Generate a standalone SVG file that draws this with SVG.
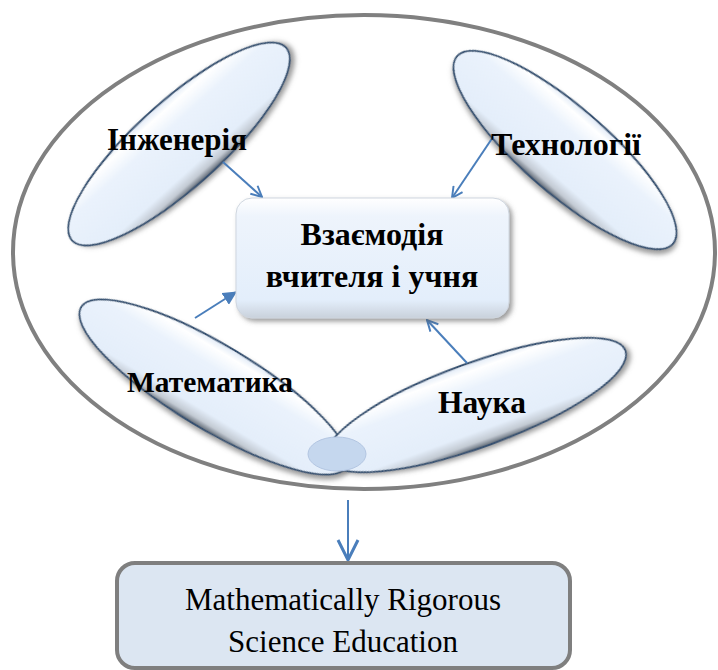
<svg xmlns="http://www.w3.org/2000/svg" width="718" height="670" viewBox="0 0 718 670">
  <defs>
    <linearGradient id="petalFill" x1="0" y1="0" x2="0" y2="1">
      <stop offset="0" stop-color="#dfe9f6"/>
      <stop offset="0.1" stop-color="#ffffff"/>
      <stop offset="0.3" stop-color="#eaf2fc"/>
      <stop offset="0.8" stop-color="#e4eefa"/>
      <stop offset="0.92" stop-color="#c3cad3"/>
      <stop offset="1" stop-color="#5f6873"/>
    </linearGradient>
    <linearGradient id="boxFill" x1="0" y1="0" x2="0" y2="1">
      <stop offset="0" stop-color="#ffffff"/>
      <stop offset="0.15" stop-color="#eef4fc"/>
      <stop offset="0.85" stop-color="#e3eefb"/>
      <stop offset="1" stop-color="#c9d1db"/>
    </linearGradient>
    <filter id="shadow" x="-10%" y="-10%" width="125%" height="130%">
      <feDropShadow dx="3" dy="3" stdDeviation="2.5" flood-color="#5a5a5a" flood-opacity="0.6"/>
    </filter>
    <marker id="openArrow" viewBox="0 0 12 12" markerWidth="13" markerHeight="13" refX="11" refY="6" orient="auto" markerUnits="userSpaceOnUse">
      <path d="M1,1 L11,6 L1,11" fill="none" stroke="#4a7ebb" stroke-width="1.8"/>
    </marker>
    <marker id="filledArrow" viewBox="0 0 12 12" markerWidth="14" markerHeight="14" refX="11" refY="6" orient="auto" markerUnits="userSpaceOnUse">
      <path d="M0,0 L12,6 L0,12 Z" fill="#4a7ebb"/>
    </marker>
    <marker id="bigArrow" viewBox="0 0 24 24" markerWidth="24" markerHeight="24" refX="22" refY="12" orient="auto" markerUnits="userSpaceOnUse">
      <path d="M2,2 L22,12 L2,22" fill="none" stroke="#4a7ebb" stroke-width="3"/>
    </marker>
    <style>
      .outer { fill: #ffffff; stroke: #808080; stroke-width: 4; }
      .petal { fill: url(#petalFill); stroke: #34506f; stroke-width: 1.8; }
      .lbl { font-family: "Liberation Serif", "Times New Roman", serif; font-weight: bold; fill: #000000; }
      .conn { stroke: #4a7ebb; stroke-width: 2; fill: none; }
      .result { fill: #dce6f2; stroke: #7f7f7f; stroke-width: 4; }
      .rtext { font-family: "Liberation Serif", "Times New Roman", serif; font-size: 31px; fill: #000000; }
    </style>
  </defs>

  <g id="scope">
    <ellipse class="outer" cx="364" cy="252" rx="351" ry="237"/>
  </g>

  <g id="engineering">
    <g transform="translate(179,144) rotate(-42)">
      <ellipse class="petal" rx="144" ry="43" filter="url(#shadow)"/>
    </g>
  </g>
  <g id="technology">
    <g transform="translate(565,150) rotate(41)">
      <ellipse class="petal" rx="143" ry="43" filter="url(#shadow)"/>
    </g>
  </g>
  <g id="mathematics">
    <g transform="translate(214,387) rotate(31)">
      <ellipse class="petal" rx="155" ry="42" filter="url(#shadow)"/>
    </g>
  </g>
  <g id="science">
    <g transform="translate(476,405) rotate(-20)">
      <ellipse class="petal" rx="159" ry="42" filter="url(#shadow)"/>
    </g>
  </g>
  <g id="hub">
    <ellipse cx="337" cy="454" rx="29" ry="17" fill="#c5d7ee" stroke="#b3c6e2" stroke-width="1"/>
  </g>

  <g id="connectors">
    <line class="conn" x1="223" y1="162" x2="262" y2="197" marker-end="url(#openArrow)"/>
    <line class="conn" x1="493" y1="137" x2="452" y2="198" marker-end="url(#openArrow)"/>
    <line class="conn" x1="195" y1="318" x2="236" y2="292" marker-end="url(#filledArrow)"/>
    <line class="conn" x1="467" y1="363" x2="427" y2="320" marker-end="url(#openArrow)"/>
    <line class="conn" x1="348" y1="500" x2="348" y2="560" stroke-width="3" marker-end="url(#bigArrow)"/>
  </g>

  <g id="interaction">
    <rect x="236" y="198" width="273" height="120" rx="16" ry="16" fill="url(#boxFill)" stroke="#cfd6df" stroke-width="1" filter="url(#shadow)"/>
    <text class="lbl" x="372" y="245" font-size="32" text-anchor="middle">Взаємодія</text>
    <text class="lbl" x="372" y="287" font-size="32" text-anchor="middle">вчителя і учня</text>
  </g>

  <g id="labels">
    <text class="lbl" x="177" y="150" font-size="31" text-anchor="middle">Інженерія</text>
    <text class="lbl" x="566" y="155" font-size="32" text-anchor="middle">Технології</text>
    <text class="lbl" x="210" y="392" font-size="29.5" text-anchor="middle">Математика</text>
    <text class="lbl" x="482" y="413" font-size="31.5" text-anchor="middle">Наука</text>
  </g>

  <g id="result">
    <rect class="result" x="117" y="563" width="453" height="105" rx="18" ry="18"/>
    <text class="rtext" x="343" y="610" text-anchor="middle">Mathematically Rigorous</text>
    <text class="rtext" x="343" y="652" text-anchor="middle">Science Education</text>
  </g>
</svg>
